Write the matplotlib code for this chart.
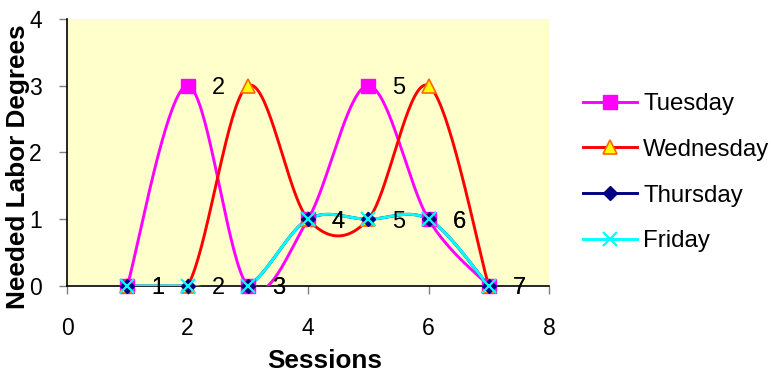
import numpy as np
import matplotlib
matplotlib.use("Agg")
import matplotlib.pyplot as plt
from matplotlib.lines import Line2D

plt.rcParams['font.family'] = ['Liberation Sans', 'DejaVu Sans']

sessions = [1, 2, 3, 4, 5, 6, 7]
tuesday = [0, 3, 0, 1, 3, 1, 0]
wednesday = [0, 0, 3, 1, 1, 3, 0]
thursday = [0, 0, 0, 1, 1, 1, 0]
friday = [0, 0, 0, 1, 1, 1, 0]
series_names = ["Tuesday", "Wednesday", "Thursday", "Friday"]
labeled_series = ["Tuesday", "Thursday"]
x_ticks = [0, 2, 4, 6, 8]
y_ticks = [0, 1, 2, 3, 4]


def smooth(xs, ys, n=40):
    """Excel-like smoothed line: Catmull-Rom converted to cubic Bezier."""
    xs = np.asarray(xs, float)
    ys = np.asarray(ys, float)
    P = np.column_stack([xs, ys])
    out = []
    m = len(P)
    for i in range(m - 1):
        p0 = P[i - 1] if i > 0 else P[i]
        p1 = P[i]
        p2 = P[i + 1]
        p3 = P[i + 2] if i + 2 < m else P[i + 1]
        c1 = p1 + (p2 - p0) / 6.0
        c2 = p2 - (p3 - p1) / 6.0
        t = np.linspace(0, 1, n)[:, None]
        seg = ((1 - t) ** 3) * p1 + 3 * ((1 - t) ** 2) * t * c1 + 3 * (1 - t) * t ** 2 * c2 + t ** 3 * p2
        if i > 0:
            seg = seg[1:]
        out.append(seg)
    out = np.vstack(out)
    return out[:, 0], out[:, 1]


W, H = 772, 377
fig = plt.figure(figsize=(W / 100, H / 100), dpi=100)
ax = fig.add_axes([67 / W, (H - 286) / H, (549 - 67) / W, (286 - 19) / H])
ax.set_facecolor('#FFFFCC')

styles = {
    "Tuesday": dict(color='#FF00FF', marker='s', mfc='#FF00FF', mec='#FF00FF', ms=10, mew=1),
    "Wednesday": dict(color='#FF0000', marker='^', mfc='#FFFF00', mec='#FF6600', ms=10, mew=1.2),
    "Thursday": dict(color='#000080', marker='D', mfc='#000080', mec='#000080', ms=7.5, mew=1),
    "Friday": dict(color='#00FFFF', marker='x', mfc='#00FFFF', mec='#00FFFF', ms=10, mew=1.6),
}
data = {"Tuesday": tuesday, "Wednesday": wednesday, "Thursday": thursday, "Friday": friday}

handles = []
for k, name in enumerate(series_names):
    st = styles[name]
    ys = data[name]
    sx, sy = smooth(sessions, ys)
    ax.plot(sx, sy, color=st['color'], lw=2.1, zorder=3 + k * 0.1, solid_capstyle='round')
    ax.plot(sessions, ys, ls='none', marker=st['marker'], mfc=st['mfc'], mec=st['mec'],
            ms=st['ms'], mew=st['mew'], zorder=5 + k * 0.1, clip_on=False)
    handles.append(Line2D([], [], color=st['color'], lw=2.1, marker=st['marker'], mfc=st['mfc'],
                          mec=st['mec'], ms=st['ms'], mew=st['mew']))

for name in labeled_series:
    for x, y in zip(sessions, data[name]):
        ax.annotate(str(x), (x, y), xytext=(22, 0), textcoords='offset points',
                    ha='center', va='center_baseline', fontsize=17, color='black', zorder=6,
                    annotation_clip=False)

ax.set_xlim(0, 8)
ax.set_ylim(0, 4)
ax.set_xticks(x_ticks)
ax.set_yticks(y_ticks)
for s in ['top', 'right']:
    ax.spines[s].set_visible(False)
for s in ['left', 'bottom']:
    ax.spines[s].set_color('black')
    ax.spines[s].set_linewidth(1.2)
    ax.spines[s].set_zorder(2)
ax.tick_params(axis='both', direction='out', length=6, width=1, color='#808080',
               labelsize=16.5, labelcolor='black')
ax.tick_params(axis='y', pad=12)
ax.tick_params(axis='x', pad=16)

fig.text(18.5 / W, 1 - 167 / H, "Needed Labor Degrees", rotation=90, ha='center', va='center',
         fontsize=18.8, fontweight='bold')
fig.text(325 / W, 1 - 361 / H, "Sessions", ha='center', va='center',
         fontsize=18.8, fontweight='bold')

leg = fig.legend(handles, series_names, loc='upper left', bbox_to_anchor=(583 / W, 1 - 93 / H),
                 frameon=False, fontsize=17.3, handlelength=2.25, handletextpad=0.25,
                 labelspacing=0.99, borderpad=0, borderaxespad=0)

fig.savefig('out.png', dpi=100)
